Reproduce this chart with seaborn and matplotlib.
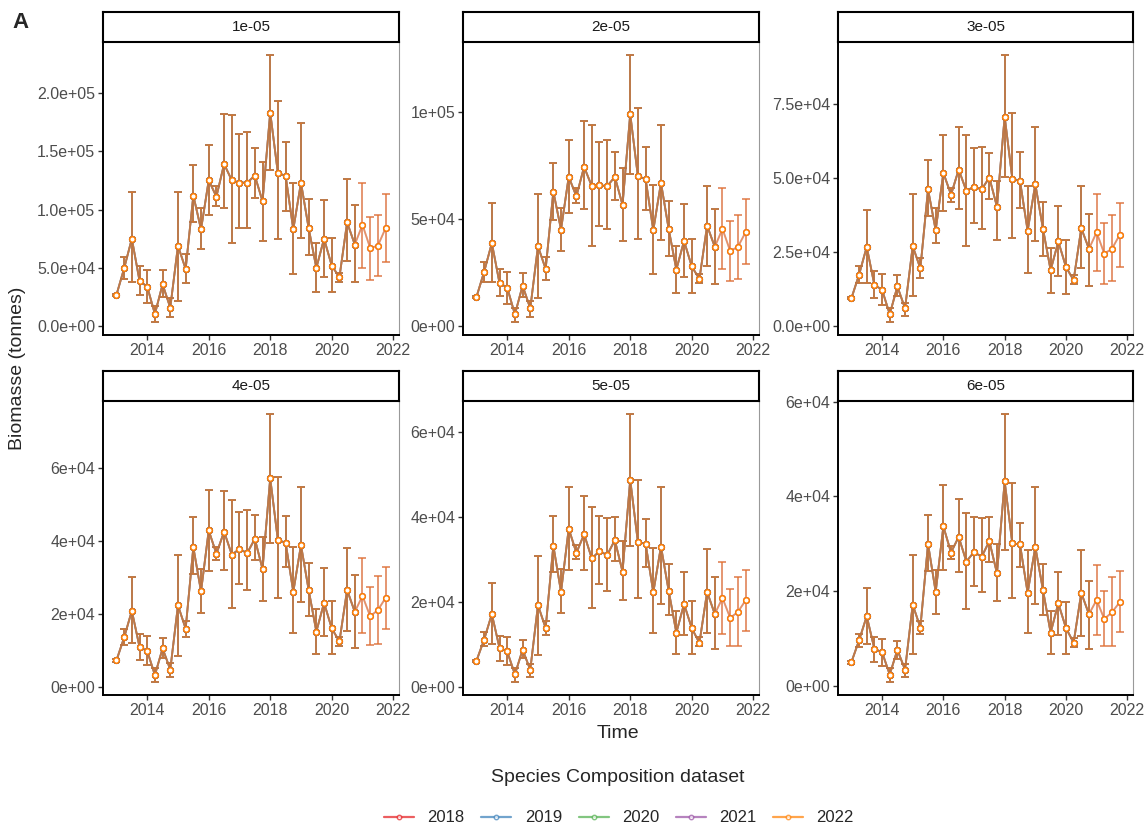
import numpy as np
import pandas as pd
import matplotlib
matplotlib.use("Agg")
import matplotlib.pyplot as plt
from matplotlib.lines import Line2D
import seaborn as sns

sns.set_theme(style="white")
plt.rcParams['font.family'] = ['Liberation Sans', 'DejaVu Sans']

# quarterly time steps, 2013 Q1 .. 2021 Q4
time = np.arange(2013.0, 2022.0, 0.25)

datasets = ["2018", "2019", "2020", "2021", "2022"]
# number of quarters covered by each species composition dataset
n_points = {"2018": 32, "2019": 32, "2020": 32, "2021": 36, "2022": 36}

panel_names = ["1e-05", "2e-05", "3e-05", "4e-05", "5e-05", "6e-05"]

# biomass estimates (thousand tonnes) with lower / upper bounds, per panel
biomass_1 = [26.9, 49.7, 75, 39, 34, 10.6, 36, 16, 69, 49, 112, 83, 125, 111, 139, 125, 123, 123,
             129, 107, 183, 131, 129, 83, 123, 84, 50, 75, 52, 42, 89, 70, 87, 67, 69, 84]
lower_1 = [26.4, 40.6, 38, 27, 20, 4, 25, 8, 22, 37, 89, 66, 95, 103, 101, 71, 84, 84,
           110, 73, 134, 75, 99, 45, 76, 61, 29, 42, 29, 38, 56, 38, 50, 40, 43, 55]
upper_1 = [27.4, 59.4, 115, 52, 48.6, 17, 48.6, 24, 115, 62, 138, 101, 155, 120, 182, 181, 165, 166,
           153, 141, 232, 193, 158, 123, 174, 109, 71, 108, 76, 46, 126, 104, 123, 94, 95, 113]

biomass_2 = [13.7, 25.5, 38.9, 20.2, 18.1, 5.6, 19.0, 8.4, 37.4, 26.8, 62.9, 45.2, 69.8, 60.7, 74.5, 65.4, 65.9, 65.4,
             69.8, 56.7, 99.1, 70.0, 68.8, 44.9, 67.0, 45.5, 26.5, 39.9, 28.0, 22.1, 47.0, 37.1, 45.5, 35.2, 37.1, 43.9]
lower_2 = [13.2, 20.9, 20.6, 14.0, 10.6, 2.2, 13.7, 4.4, 13.1, 21.5, 49.8, 35.2, 53.0, 57.6, 54.8, 37.4, 47.0, 45.6,
           58.9, 39.9, 71.0, 41.0, 54.5, 24.6, 40.5, 33.0, 15.6, 23.0, 15.6, 20.2, 28.3, 19.6, 26.8, 21.2, 22.1, 29.0]
upper_2 = [14.2, 30.2, 57.6, 26.8, 25.5, 8.4, 24.9, 11.8, 62.0, 32.4, 76.3, 55.3, 86.9, 64.5, 96.0, 93.8, 86.1, 86.9,
           81.6, 74.1, 126.5, 102.0, 83.5, 66.0, 93.8, 58.6, 37.7, 57.0, 40.8, 24.3, 65.7, 54.8, 64.5, 49.2, 52.0, 59.5]

biomass_3 = [9.5, 17.5, 26.9, 14.0, 12.4, 4.1, 13.5, 6.1, 27.1, 19.6, 46.3, 32.5, 51.9, 44.5, 53.0, 45.8, 47.2, 46.3,
             50.3, 40.4, 70.9, 49.9, 49.2, 32.3, 48.1, 33.0, 19.0, 28.7, 20.1, 15.6, 33.2, 26.2, 31.8, 24.6, 26.2, 30.9]
lower_3 = [9.1, 14.7, 14.7, 9.5, 7.4, 1.6, 10.2, 3.4, 10.2, 16.3, 37.2, 28.2, 39.0, 42.2, 39.7, 27.3, 34.8, 33.0,
           43.1, 29.1, 50.6, 29.8, 40.0, 18.1, 28.9, 23.9, 11.3, 16.9, 11.1, 14.2, 19.6, 13.8, 18.7, 14.4, 15.3, 20.1]
upper_3 = [9.9, 20.3, 39.3, 18.7, 17.6, 6.1, 17.4, 7.9, 44.7, 23.0, 56.2, 40.0, 64.8, 46.7, 67.3, 64.6, 60.3, 60.5,
           58.5, 49.2, 91.6, 72.0, 58.9, 47.4, 67.3, 42.2, 26.6, 40.6, 29.3, 17.4, 47.4, 38.1, 44.7, 34.8, 37.5, 41.8]

biomass_4 = [7.3, 13.6, 20.9, 11.0, 9.9, 3.3, 10.6, 4.8, 22.4, 16.0, 38.3, 26.2, 42.9, 36.5, 42.6, 36.3, 37.8, 36.7,
             40.6, 32.3, 57.2, 40.2, 39.6, 26.1, 38.9, 26.6, 15.2, 23.1, 16.1, 12.5, 26.6, 20.6, 25.0, 19.4, 21.1, 24.4]
lower_4 = [7.0, 11.6, 12.1, 7.5, 6.1, 1.5, 8.1, 2.8, 8.4, 13.6, 31.0, 20.4, 31.9, 34.9, 32.1, 21.8, 28.3, 26.6,
           34.9, 23.7, 39.6, 24.4, 32.8, 14.9, 23.3, 19.6, 9.0, 13.9, 9.0, 11.2, 15.4, 10.8, 14.9, 11.6, 11.7, 15.8]
upper_4 = [7.6, 15.8, 30.1, 14.5, 13.9, 5.1, 13.4, 6.6, 36.1, 18.0, 46.6, 32.3, 54.1, 38.3, 53.8, 51.2, 47.9, 48.4,
           47.2, 41.1, 74.7, 57.6, 46.8, 38.3, 54.9, 34.1, 21.3, 32.5, 23.7, 13.8, 38.0, 30.8, 35.4, 27.5, 30.3, 33.0]

biomass_5 = [6.2, 11.2, 17.2, 9.2, 8.4, 3.0, 8.8, 4.1, 19.3, 13.9, 33.3, 22.4, 37.3, 31.6, 36.0, 30.3, 32.0, 31.1,
             34.6, 27.2, 48.8, 34.1, 33.8, 22.3, 33.1, 22.7, 12.8, 19.6, 13.9, 10.4, 22.4, 17.2, 21.0, 16.3, 17.7, 20.4]
lower_5 = [5.9, 9.6, 10.1, 6.2, 5.1, 1.3, 6.9, 2.4, 7.6, 12.3, 27.0, 17.4, 27.6, 30.2, 27.6, 18.6, 24.2, 22.7,
           29.8, 20.4, 33.3, 21.0, 28.3, 12.8, 19.6, 16.9, 7.7, 12.2, 7.7, 9.6, 12.8, 9.0, 12.6, 9.6, 9.6, 13.3]
upper_5 = [6.5, 12.9, 24.5, 12.0, 11.7, 4.4, 11.1, 5.5, 30.8, 15.5, 40.3, 27.8, 47.0, 33.5, 45.0, 42.5, 40.3, 39.9,
           40.1, 34.3, 64.2, 48.8, 39.5, 32.8, 47.0, 29.0, 18.0, 27.2, 20.2, 11.7, 32.4, 25.9, 29.5, 23.0, 25.9, 27.6]

biomass_6 = [5.1, 9.7, 14.8, 7.9, 7.2, 2.5, 7.7, 3.5, 17.2, 12.4, 30.0, 19.9, 33.7, 28.2, 31.5, 26.3, 28.3, 27.3,
             30.6, 23.8, 43.2, 30.1, 29.9, 19.7, 29.4, 20.3, 11.3, 17.5, 12.3, 9.2, 19.7, 15.2, 18.2, 14.2, 15.6, 17.7]
lower_6 = [4.8, 8.3, 8.9, 5.2, 4.2, 1.0, 5.8, 2.0, 6.9, 11.0, 24.2, 15.2, 24.6, 26.9, 24.1, 16.2, 21.1, 19.9,
           26.3, 18.0, 28.7, 18.6, 25.2, 11.3, 17.3, 15.1, 6.8, 10.8, 6.9, 8.3, 10.7, 7.9, 10.8, 8.5, 8.5, 11.4]
upper_6 = [5.4, 11.0, 20.7, 10.4, 10.0, 3.8, 9.6, 4.8, 27.6, 13.8, 36.2, 24.6, 42.5, 29.6, 39.4, 36.5, 35.6, 35.5,
           35.6, 29.9, 57.3, 42.8, 34.5, 28.7, 42.0, 25.8, 15.8, 24.1, 17.7, 10.1, 28.7, 22.3, 25.6, 20.0, 23.0, 24.2]

# y tick labels, as printed per panel
yticks = [
    ([0, 5e4, 1e5, 1.5e5, 2e5], ["0.0e+00", "5.0e+04", "1.0e+05", "1.5e+05", "2.0e+05"]),
    ([0, 5e4, 1e5], ["0e+00", "5e+04", "1e+05"]),
    ([0, 2.5e4, 5e4, 7.5e4], ["0.0e+00", "2.5e+04", "5.0e+04", "7.5e+04"]),
    ([0, 2e4, 4e4, 6e4], ["0e+00", "2e+04", "4e+04", "6e+04"]),
    ([0, 2e4, 4e4, 6e4], ["0e+00", "2e+04", "4e+04", "6e+04"]),
    ([0, 2e4, 4e4, 6e4], ["0e+00", "2e+04", "4e+04", "6e+04"]),
]

means = [biomass_1, biomass_2, biomass_3, biomass_4, biomass_5, biomass_6]
lowers = [lower_1, lower_2, lower_3, lower_4, lower_5, lower_6]
uppers = [upper_1, upper_2, upper_3, upper_4, upper_5, upper_6]

palette = dict(zip(datasets, sns.color_palette("Set1", 5)))

# long table: one row per panel x dataset x quarter
rows = []
for p, name in enumerate(panel_names):
    for ds in datasets:
        for i in range(n_points[ds]):
            rows.append({"panel": name, "dataset": ds, "time": time[i],
                         "biomass": means[p][i] * 1e3,
                         "lower": lowers[p][i] * 1e3,
                         "upper": uppers[p][i] * 1e3})
df = pd.DataFrame(rows)

W, H = 1148, 831
fig = plt.figure(figsize=(W / 100, H / 100), dpi=100)

cols_px = [(103, 399), (463, 759), (838, 1133)]
rows_px = [(42, 335), (401, 695)]
strip_h = 30

tick_col = "#4D4D4D"
for p, name in enumerate(panel_names):
    (x0, x1), (y0, y1) = cols_px[p % 3], rows_px[p // 3]
    ax = fig.add_axes([x0 / W, 1 - y1 / H, (x1 - x0) / W, (y1 - y0) / H])
    sub = df[df.panel == name]

    sns.lineplot(data=sub, x="time", y="biomass", hue="dataset", hue_order=datasets,
                 palette=palette, alpha=0.5, linewidth=1.3, errorbar=None,
                 legend=False, ax=ax)
    for ds in datasets:
        d = sub[sub.dataset == ds]
        ax.errorbar(d.time, d.biomass, yerr=[d.biomass - d.lower, d.upper - d.biomass],
                    fmt="none", ecolor=palette[ds], alpha=0.5, elinewidth=1.3,
                    capsize=2.6, capthick=1.3)
    for ds in datasets:
        d = sub[sub.dataset == ds]
        ax.plot(d.time, d.biomass, "o", ms=4.0, mfc="white", mec=palette[ds], mew=1.1, zorder=4)

    # ggplot-style 5% expansion
    span = time[-1] - time[0]
    ax.set_xlim(time[0] - 0.05 * span, time[-1] + 0.05 * span)
    lo, hi = sub.lower.min(), sub.upper.max()
    ax.set_ylim(lo - 0.05 * (hi - lo), hi + 0.05 * (hi - lo))
    ax.set_xticks([2014, 2016, 2018, 2020, 2022])
    ax.set_yticks(yticks[p][0])
    ax.set_yticklabels(yticks[p][1])
    ax.set_xlabel("")
    ax.set_ylabel("")
    ax.tick_params(axis="both", length=3.5, width=1.0, color="#333333",
                   labelsize=11.5, labelcolor=tick_col, pad=2, left=True, bottom=True)
    for side in ["left", "bottom"]:
        ax.spines[side].set_color("black")
        ax.spines[side].set_linewidth(1.4)
    ax.spines["right"].set_color("#999999")
    ax.spines["right"].set_linewidth(0.8)
    ax.spines["top"].set_visible(False)

    # facet strip
    sax = fig.add_axes([x0 / W, 1 - y0 / H, (x1 - x0) / W, strip_h / H])
    sax.set_xticks([])
    sax.set_yticks([])
    for s in sax.spines.values():
        s.set_color("black")
        s.set_linewidth(1.5)
    sax.text(0.5, 0.5, name, ha="center", va="center", fontsize=11, color="#1A1A1A",
             transform=sax.transAxes)

fig.text(12 / W, 1 - 22 / H, "A", fontsize=16, fontweight="bold", ha="left", va="center")
fig.text(18 / W, 1 - 368 / H, "Biomasse (tonnes)", rotation=90, fontsize=14,
         ha="center", va="center")
fig.text(618 / W, 1 - 733 / H, "Time", fontsize=14, ha="center", va="center")
fig.text(618 / W, 1 - 777 / H, "Species Composition dataset", fontsize=14,
         ha="center", va="center")

handles = [Line2D([0], [0], color=palette[ds], lw=1.6, alpha=0.7, marker="o", ms=3.2,
                  mfc="white", mec=palette[ds], mew=1.0) for ds in datasets]
fig.legend(handles, datasets, loc="center", bbox_to_anchor=(619 / W, 1 - 818 / H),
           ncol=5, frameon=False, fontsize=12, handlelength=1.8, handletextpad=0.8,
           columnspacing=1.0)

fig.savefig("out.png", dpi=100)
